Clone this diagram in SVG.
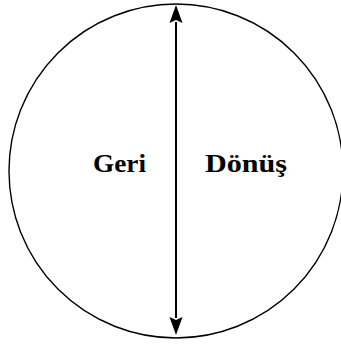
<svg xmlns="http://www.w3.org/2000/svg" width="341" height="345" viewBox="0 0 341 345">
<style>
.lbl{font-family:"Liberation Serif","Times New Roman",serif;font-weight:bold;font-size:26px;fill:#000}
</style>
<defs>
<marker id="ah" viewBox="0 0 12 18" refX="11" refY="9" markerWidth="12" markerHeight="18" markerUnits="userSpaceOnUse" orient="auto">
<path d="M0,0 L18,9 L0,18 L4,9 Z" fill="#000" transform="scale(0.667,1)"/>
</marker>
</defs>
<g id="circle">
<circle cx="176" cy="171" r="167" fill="none" stroke="#000" stroke-width="1.4"/>
</g>
<g id="connectors">
<line x1="176" y1="318" x2="176" y2="22" stroke="#000" stroke-width="2"/>
<path d="M176,5 L182.5,23 L176,20 L169.5,23 Z" fill="#000"/>
<path d="M176,335 L182.5,317 L176,320 L169.5,317 Z" fill="#000"/>
</g>
<g id="geri">
<text class="lbl" x="93" y="172" textLength="53" lengthAdjust="spacingAndGlyphs">Geri</text>
</g>
<g id="donus">
<text class="lbl" x="205" y="172" textLength="82" lengthAdjust="spacingAndGlyphs">Dönüş</text>
</g>
</svg>
